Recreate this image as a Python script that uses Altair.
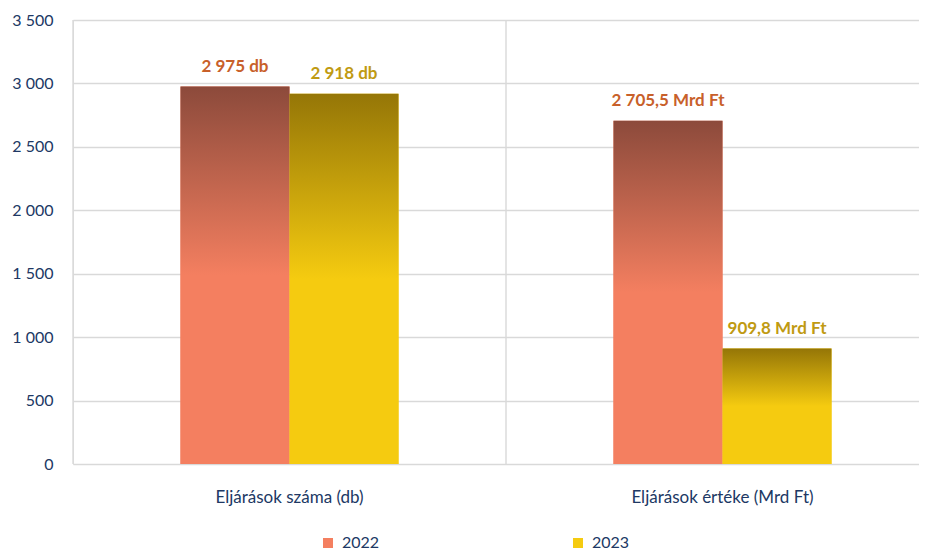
import altair as alt
import pandas as pd

categories = ["Eljárások száma (db)", "Eljárások értéke (Mrd Ft)"]
years = ["2022", "2023"]
values_2022 = [2975, 2705.5]
values_2023 = [2918, 909.8]
labels_2022 = ["2 975 db", "2 705,5 Mrd Ft"]
labels_2023 = ["2 918 db", "909,8 Mrd Ft"]
y_ticks = [0, 500, 1000, 1500, 2000, 2500, 3000, 3500]

rows = []
for i, c in enumerate(categories):
    rows.append({"cat": c, "year": years[0], "value": values_2022[i], "label": labels_2022[i]})
    rows.append({"cat": c, "year": years[1], "value": values_2023[i], "label": labels_2023[i]})
df = pd.DataFrame(rows)
sep = pd.DataFrame({"cat": categories})

FONT = "Lato"
AXIS_COL = "#203864"
GRID = "#D9D9D9"
C22_TOP, C22 = "#8C4A3B", "#F47F60"
C23_TOP, C23 = "#957607", "#F5CB10"
L22, L23 = "#C8602A", "#C09A12"

W, H = 846, 444

def grad(top, bottom):
    return alt.Gradient(
        gradient="linear", x1=0, y1=0, x2=0, y2=1,
        stops=[alt.GradientStop(color=top, offset=0),
               alt.GradientStop(color=bottom, offset=0.5),
               alt.GradientStop(color=bottom, offset=1)],
    )

xscale = alt.Scale(range=[0, 866], paddingInner=0, paddingOuter=0)
xoff = alt.XOffset("year:N", scale=alt.Scale(paddingInner=0, paddingOuter=0.986))
yenc = alt.Y("value:Q", scale=alt.Scale(domain=[0, 3500]),
             axis=alt.Axis(values=y_ticks, title=None, grid=True, gridColor=GRID,
                           gridWidth=1.4, domain=False, ticks=False, labelPadding=20,
                           labelFont=FONT, labelFontSize=16, labelColor=AXIS_COL,
                           labelExpr="replace(format(datum.value, ','), ',', ' ')"))
xenc = alt.X("cat:N", scale=xscale, sort=categories,
             axis=alt.Axis(title=None, domain=False, ticks=False, labelAngle=0,
                           labelAlign="center", labelBaseline="top",
                           labelPadding=25, labelFont=FONT, labelFontSize=17,
                           labelColor=AXIS_COL, labelLimit=400))

rules = alt.Chart(sep).mark_rule(color=GRID, strokeWidth=1.4).encode(
    x=alt.X("cat:N", scale=xscale, sort=categories, bandPosition=0),
    y=alt.Y(datum=0),
    y2=alt.Y2(datum=3500),
)

base_bars = alt.Chart(df).mark_bar().encode(
    x=xenc, xOffset=xoff, y=yenc,
    color=alt.Color("year:N", scale=alt.Scale(domain=years, range=[C22, C23]),
                    legend=alt.Legend(title=None, orient="none", direction="horizontal",
                                      columns=2, columnPadding=190, legendX=247, legendY=515,
                                      symbolType="square", symbolSize=100, symbolStrokeWidth=0,
                                      labelFont=FONT, labelFontSize=16, labelColor=AXIS_COL,
                                      labelOffset=6)),
)

bars22 = alt.Chart(df).transform_filter("datum.year == '2022'").mark_bar(
    fill=grad(C22_TOP, C22)).encode(x=xenc, xOffset=xoff, y=yenc)
bars23 = alt.Chart(df).transform_filter("datum.year == '2023'").mark_bar(
    fill=grad(C23_TOP, C23)).encode(x=xenc, xOffset=xoff, y=yenc)

text = alt.Chart(df).mark_text(font=FONT, fontSize=17, fontWeight="bold",
                               baseline="bottom", dy=-11).encode(
    x=xenc, xOffset=xoff, y=yenc, text="label:N",
    color=alt.condition("datum.year == '2022'", alt.value(L22), alt.value(L23)),
)

chart = alt.layer(rules, base_bars, bars22, bars23, text).properties(
    width=W, height=H,
    autosize=alt.AutoSizeParams(type="none"),
    padding={"left": 65, "top": 12, "right": 0, "bottom": 86},
).configure_view(stroke=None).configure(background="white")

chart.save("out.html", embed_options={"renderer": "svg", "actions": False})
